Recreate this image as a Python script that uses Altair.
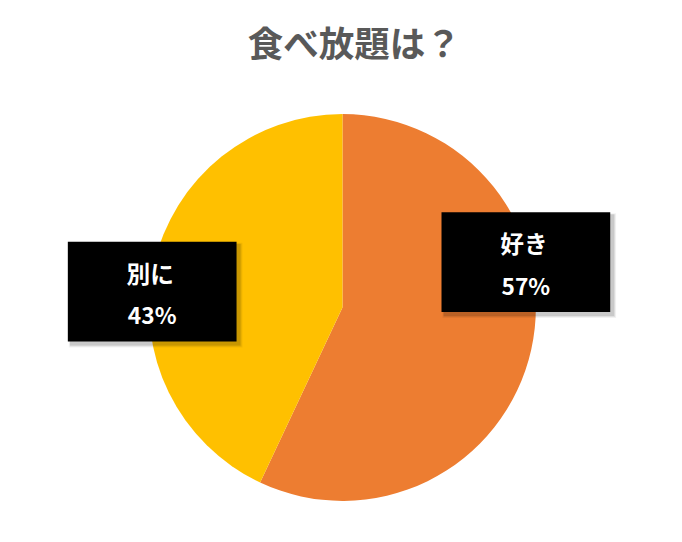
import altair as alt
import pandas as pd

categories = ["好き", "別に"]
shares = [57, 43]
pct_labels = ["57%", "43%"]
colors = ["#ED7D31", "#FFC000"]

df = pd.DataFrame({"cat": categories, "share": shares, "pct": pct_labels, "order": [0, 1]})

R = 196
W, H = 672, 450
CX, CY = W / 2, H / 2
BW, BH = 171, 101

xs = alt.Scale(domain=[-CX, W - CX])
ys = alt.Scale(domain=[H - CY, -CY])

base = alt.Chart(df).transform_joinaggregate(
    total="sum(share)"
).transform_window(
    cum="sum(share)", sort=[alt.SortField("order")]
).transform_calculate(
    mid="2*PI*(datum.cum - datum.share/2)/datum.total",
).transform_calculate(
    lx=f"0.99*{R}*sin(datum.mid) - 3.5",
    ly=f"-31 + 0.35*{R}*cos(datum.mid)",
)


def rect_layer(dx1, dx2, dy1, dy2, color, opacity):
    return base.transform_calculate(
        rx1=f"datum.lx - {BW/2} + {dx1}", rx2=f"datum.lx + {BW/2} + {dx2}",
        ry1=f"datum.ly - {BH/2} + {dy1}", ry2=f"datum.ly + {BH/2} + {dy2}",
    ).mark_rect(color=color, opacity=opacity).encode(
        x=alt.X("rx1:Q", scale=xs, axis=None), x2="rx2:Q",
        y=alt.Y("ry1:Q", scale=ys, axis=None), y2="ry2:Q",
    )


pie = alt.Chart(df).mark_arc(outerRadius=R, strokeWidth=0).encode(
    theta=alt.Theta("share:Q", stack=True),
    order=alt.Order("order:Q"),
    color=alt.Color("cat:N", scale=alt.Scale(domain=categories, range=colors), legend=None),
)

shadows = [
    rect_layer(1, 6, 1, 6, "#000000", 0.05),
    rect_layer(2, 5, 2, 5, "#000000", 0.07),
    rect_layer(2, 4, 2, 4, "#000000", 0.10),
]
box = rect_layer(0, 0, 0, 0, "#000000", 1)

font = "Noto Sans CJK JP"
t1 = base.mark_text(color="white", fontSize=24, fontWeight="bold", font=font, dy=-16, dx=-2).encode(
    x=alt.X("lx:Q", scale=xs, axis=None), y=alt.Y("ly:Q", scale=ys, axis=None), text="cat:N"
)
t2 = base.mark_text(color="white", fontSize=23, fontWeight="bold", font=font, dy=26).encode(
    x=alt.X("lx:Q", scale=xs, axis=None), y=alt.Y("ly:Q", scale=ys, axis=None), text="pct:N"
)

chart = alt.layer(pie, *shadows, box, t1, t2).properties(
    width=W, height=H,
    autosize=alt.AutoSizeParams(type="none"),
    padding={"left": 3, "top": 75, "right": 0, "bottom": 0},
    title=alt.Title("食べ放題は？", font=font, fontSize=36, fontWeight="bold",
                    color="#595959", anchor="middle", dx=12, offset=21),
).configure_view(stroke=None)

chart.save("out.html", embed_options={"renderer": "svg", "actions": False})
